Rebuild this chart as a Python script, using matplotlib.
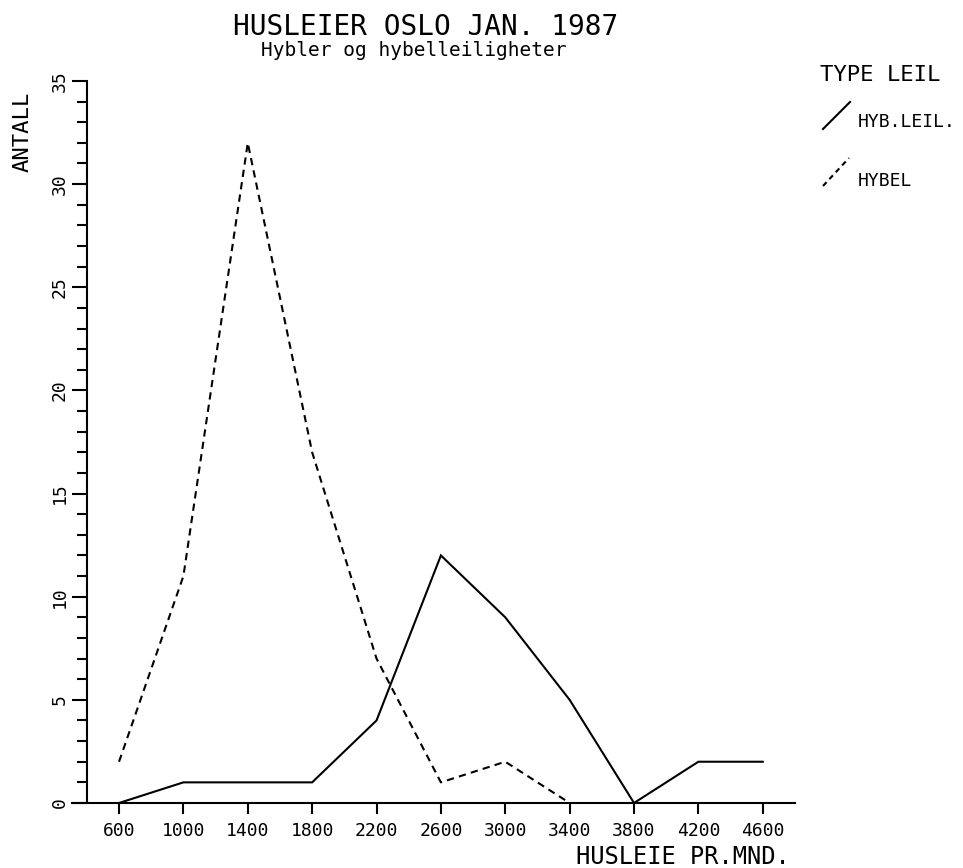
import matplotlib
matplotlib.use("Agg")
import matplotlib.pyplot as plt
from matplotlib.lines import Line2D

plt.rcParams["font.family"] = ["DejaVu Sans Mono", "DejaVu Sans"]

# husleie (kr pr. mnd) og antall
rent = [600, 1000, 1400, 1800, 2200, 2600, 3000, 3400, 3800, 4200, 4600]
hyb_leil = [0, 1, 1, 1, 4, 12, 9, 5, 0, 2, 2]
hybel_rent = [600, 1000, 1400, 1800, 2200, 2600, 3000, 3400]
hybel = [2, 11, 32, 17, 7, 1, 2, 0]

xticks = [600, 1000, 1400, 1800, 2200, 2600, 3000, 3400, 3800, 4200, 4600]
yticks = [0, 5, 10, 15, 20, 25, 30, 35]

fig = plt.figure(figsize=(9.63, 8.68), dpi=100)
ax = fig.add_axes([0.0748, 0.0749, 0.7507, 0.8318])

lw = 1.5
ax.plot(rent, hyb_leil, color="black", lw=lw, solid_joinstyle="miter")
ax.plot(hybel_rent, hybel, color="black", lw=lw, dashes=(3.5, 2.5))

ax.set_xlim(308, 4800)
ax.set_ylim(0, 35)

ax.spines["top"].set_visible(False)
ax.spines["right"].set_visible(False)
ax.spines["left"].set_position(("data", 400))
ax.spines["left"].set_linewidth(lw)
ax.spines["bottom"].set_linewidth(lw)

ax.set_xticks(xticks)
ax.set_xticklabels([str(v) for v in xticks], fontsize=13)
ax.set_yticks(yticks)
ax.set_yticklabels([str(v) for v in yticks], fontsize=13, rotation=90, va="center")
ax.set_yticks(range(0, 36), minor=True)
ax.tick_params(axis="x", direction="out", length=8, width=1.5, pad=6)
ax.tick_params(axis="y", which="major", direction="out", length=11, width=1.5, pad=2)
ax.tick_params(axis="y", which="minor", direction="out", length=7, width=1.5)

fig.text(426 / 963, 1 - 27 / 868, "HUSLEIER OSLO JAN. 1987", ha="center", va="center", fontsize=20)
fig.text(414 / 963, 1 - 50 / 868, "Hybler og hybelleiligheter", ha="center", va="center", fontsize=14)
fig.text(23 / 963, 1 - 132 / 868, "ANTALL", ha="center", va="center", rotation=90, fontsize=16)
fig.text(790 / 963, 1 - 857 / 868, "HUSLEIE PR.MND.", ha="right", va="center", fontsize=17)

# forklaring
fig.text(820 / 963, 1 - 75 / 868, "TYPE LEIL", ha="left", va="center", fontsize=16)
fig.add_artist(Line2D([823 / 963, 850 / 963], [1 - 129 / 868, 1 - 102 / 868],
                      color="black", lw=lw, transform=fig.transFigure))
fig.text(858 / 963, 1 - 122 / 868, "HYB.LEIL.", ha="left", va="center", fontsize=13)
fig.add_artist(Line2D([823 / 963, 849 / 963], [1 - 186 / 868, 1 - 158 / 868],
                      color="black", lw=lw, dashes=(2.5, 2), transform=fig.transFigure))
fig.text(858 / 963, 1 - 181 / 868, "HYBEL", ha="left", va="center", fontsize=13)

fig.savefig("out.png", dpi=100)
